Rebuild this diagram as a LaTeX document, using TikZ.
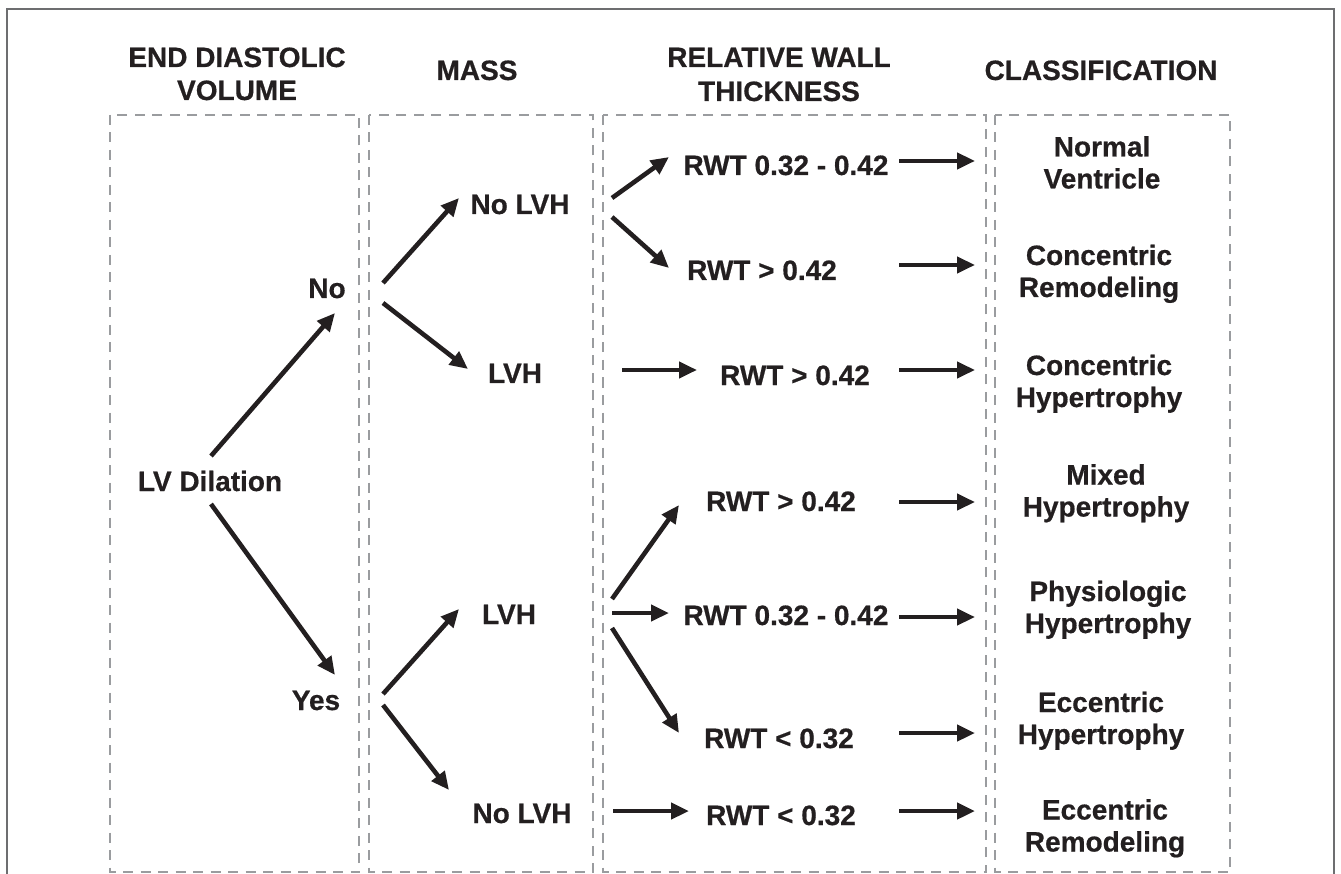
\documentclass[tikz,border=0pt]{standalone}
\usepackage{fontspec}
\setmainfont{Liberation Sans}[BoldFeatures={FakeBold=0.6}]
\usetikzlibrary{arrows.meta}
\definecolor{ink}{HTML}{231F20}
\definecolor{dashgray}{HTML}{9A9C9F}
\definecolor{framegray}{HTML}{6D6E70}
\tikzset{
  lbl/.style={font=\bfseries\fontsize{28}{32}\selectfont, text=ink, inner sep=0pt, anchor=base},
  mlbl/.style={lbl, align=center},
  arr/.style={draw=ink, line width=4.6pt, -{Triangle[length=18pt,width=16pt]}},
  colbox/.style={draw=dashgray, line width=2.6pt, dash pattern=on 10pt off 7.5pt},
  framel/.style={draw=framegray, line width=1.6pt},
}
\begin{document}
\begin{tikzpicture}[x=1pt,y=-1pt]
\useasboundingbox (0,0) rectangle (1341,874);
% outer frame
\draw[framel] (7,874) -- (7,9) -- (1334,9) -- (1334,874);
% column boxes
\draw[colbox] (110,115) rectangle (359,872);
\draw[colbox] (369,115) rectangle (593,872);
\draw[colbox] (603,115) rectangle (986,872);
\draw[colbox] (995,115) rectangle (1230,872);
% headers (base anchor = last line baseline)
\node[mlbl] (h1) at (237,100) {END DIASTOLIC\\[1pt]VOLUME};
\node[lbl] (h2) at (477,80) {MASS};
\node[mlbl] (h3) at (779,101) {RELATIVE WALL\\[2pt]THICKNESS};
\node[lbl] (h4) at (1101,80) {CLASSIFICATION};
% column 1
\node[lbl] (lvd) at (210,491) {LV Dilation};
\node[lbl] (no) at (327,298) {No};
\node[lbl] (yes) at (316,710) {Yes};
% column 2
\node[lbl] (nolvh1) at (520,214) {No LVH};
\node[lbl] (lvh1) at (515,383) {LVH};
\node[lbl] (lvh2) at (509,624) {LVH};
\node[lbl] (nolvh2) at (522,823) {No LVH};
% column 3
\node[lbl] (r1) at (786,175) {RWT 0.32 - 0.42};
\node[lbl] (r2) at (762,280) {RWT > 0.42};
\node[lbl] (r3) at (795,385) {RWT > 0.42};
\node[lbl] (r4) at (781,511) {RWT > 0.42};
\node[lbl] (r5) at (786,625) {RWT 0.32 - 0.42};
\node[lbl] (r6) at (779,748) {RWT < 0.32};
\node[lbl] (r7) at (781,825) {RWT < 0.32};
% column 4
\node[mlbl] (c1) at (1102,188.5) {Normal\\Ventricle};
\node[mlbl] (c2) at (1099,297) {Concentric\\Remodeling};
\node[mlbl] (c3) at (1099,407) {Concentric\\Hypertrophy};
\node[mlbl] (c4) at (1106,516.5) {Mixed\\Hypertrophy};
\node[mlbl] (c5) at (1108,633) {Physiologic\\Hypertrophy};
\node[mlbl] (c6) at (1101,744) {Eccentric\\Hypertrophy};
\node[mlbl] (c7) at (1105,851.5) {Eccentric\\Remodeling};
% arrow end points
\coordinate (a1s) at (211,456); \coordinate (a1e) at (335,313);
\coordinate (a2s) at (211,504); \coordinate (a2e) at (335,675);
\coordinate (a3s) at (383,283); \coordinate (a3e) at (459,198);
\coordinate (a4s) at (383,303); \coordinate (a4e) at (468,369);
\coordinate (a5s) at (383,694); \coordinate (a5e) at (459,609);
\coordinate (a6s) at (383,705); \coordinate (a6e) at (449,790);
\coordinate (a7s) at (612,198); \coordinate (a7e) at (669,157);
\coordinate (a8s) at (612,217); \coordinate (a8e) at (669,268);
\coordinate (a9s) at (622,370); \coordinate (a9e) at (697,370);
\coordinate (a10s) at (612,599); \coordinate (a10e) at (679,505);
\coordinate (a11s) at (612,613); \coordinate (a11e) at (669,613);
\coordinate (a12s) at (612,628); \coordinate (a12e) at (679,733);
\coordinate (a13s) at (613,811); \coordinate (a13e) at (689,811);
\foreach \y/\n in {161/1,265/2,370/3,502/4,617/5,733/6,811/7}{
  \coordinate (b\n s) at (899,\y); \coordinate (b\n e) at (975,\y);
}
% arrows
\draw[arr] (a1s) -- (a1e);
\draw[arr] (a2s) -- (a2e);
\draw[arr] (a3s) -- (a3e);
\draw[arr] (a4s) -- (a4e);
\draw[arr] (a5s) -- (a5e);
\draw[arr] (a6s) -- (a6e);
\draw[arr] (a7s) -- (a7e);
\draw[arr] (a8s) -- (a8e);
\draw[arr] (a9s) -- (a9e);
\draw[arr] (a10s) -- (a10e);
\draw[arr] (a11s) -- (a11e);
\draw[arr] (a12s) -- (a12e);
\draw[arr] (a13s) -- (a13e);
\foreach \n in {1,...,7}{\draw[arr] (b\n s) -- (b\n e);}
\end{tikzpicture}
\end{document}
